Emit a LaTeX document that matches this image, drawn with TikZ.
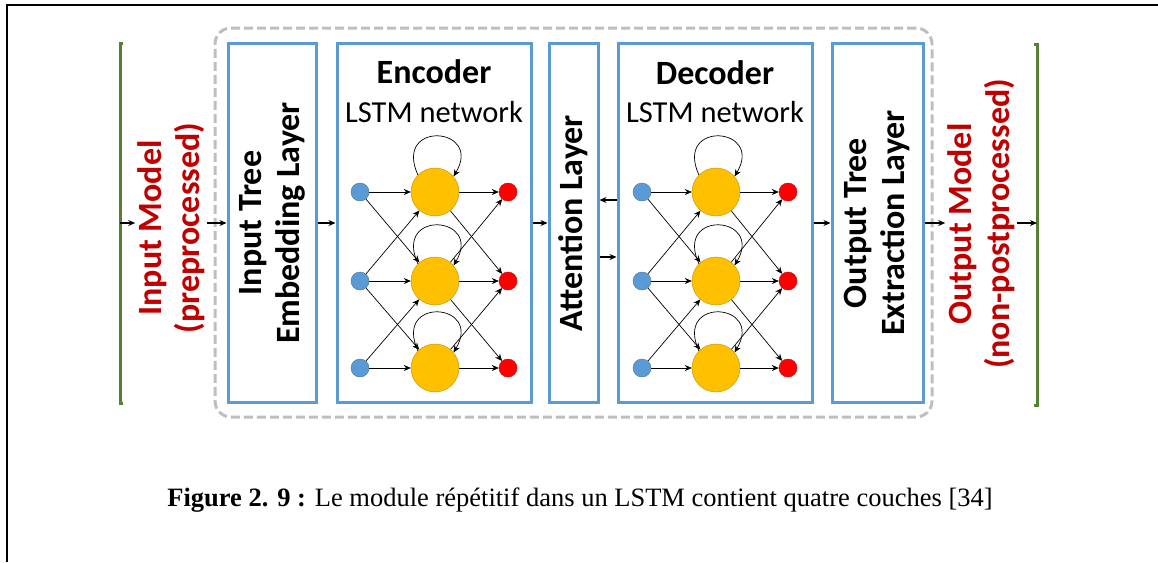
\documentclass[tikz,border=0pt]{standalone}
\usepackage{fontspec}
\setmainfont{Carlito}
\newfontfamily\capfont{Liberation Serif}
\usetikzlibrary{arrows.meta, positioning, calc}
\definecolor{layblue}{RGB}{91, 155, 213}
\definecolor{nodeborder}{RGB}{65, 113, 156}
\definecolor{cellyellow}{RGB}{255, 192, 0}
\definecolor{cellborder}{RGB}{191, 144, 0}
\definecolor{modelred}{RGB}{192, 0, 0}
\definecolor{bargreen}{RGB}{84, 130, 53}
\definecolor{dashgray}{RGB}{191, 191, 191}

\begin{document}
\begin{tikzpicture}[x=1pt, y=-1pt,
        laybox/.style={draw=layblue, line width=3pt, minimum width=#1, minimum height=359pt, inner sep=0pt},
        vtext/.style={rotate=90, align=center, inner sep=2pt, font=\bfseries\fontsize{34}{38}\selectfont},
        title/.style={font=\bfseries\fontsize{34}{38}\selectfont},
        sub/.style={font=\fontsize{30.5}{36}\selectfont},
        inp/.style={circle, draw=nodeborder, fill=layblue, minimum size=18pt, inner sep=0pt},
        cell/.style={circle, draw=cellborder, fill=cellyellow, minimum size=48pt, inner sep=0pt},
        outp/.style={circle, draw=modelred, fill=red, minimum size=18pt, inner sep=0pt},
        arr/.style={-{Stealth[length=7pt, width=6pt]}, line width=0.7pt},
        flow/.style={-{Stealth[length=7pt, width=6pt]}, line width=1.4pt},
        bar/.style={bargreen, line width=3pt}
      ]
        \useasboundingbox (0,0) rectangle (1158,562);
        \draw[line width=2pt] (1158,5) -- (7,5) -- (7,562);

        % dashed module frame
        \node[draw=dashgray, line width=3pt, dash pattern=on 9pt off 4pt, rounded corners=16pt,
              minimum width=717pt, minimum height=389pt] (module) at (573.5,222.5) {};

        % green bars
        \draw[bar] (123,43) -- (120,43) -- (120,403) -- (123,403);
        \draw[bar] (1034,44) -- (1037,44) -- (1037,405) -- (1034,405);
        \coordinate (inbar) at (120,223);
        \coordinate (outbar) at (1037,223);

        % layers
        \node[laybox=88pt]  (emb) at (272,223) {};
        \node[laybox=194pt] (enc) at (434,223) {};
        \node[laybox=49pt]  (att) at (573.5,223) {};
        \node[laybox=194pt] (dec) at (715,223) {};
        \node[laybox=91pt]  (ext) at (877.5,223) {};

        \node[vtext, text=modelred] (inmodel)  at (171,228) {Input Model\\(preprocessed)};
        \node[vtext] (embtext) at (emb) {Input Tree\\Embedding Layer};
        \node[vtext] (atttext) at (att) {Attention Layer};
        \node[vtext] (exttext) at (ext) {Output Tree\\Extraction Layer};
        \node[vtext, text=modelred] (outmodel) at (981,224) {Output Model\\(non-postprocessed)};

        \node[title] (enctitle) at (434,72) {Encoder};
        \node[sub]   (encsub)   at (434,112) {LSTM network};
        \node[title] (dectitle) at (715,73) {Decoder};
        \node[sub]   (decsub)   at (715,112) {LSTM network};

        % LSTM networks
        \foreach \n/\bx/\cx/\rx in {e/360/435/508, d/642/716/788} {
          \foreach \i/\y in {1/192, 2/281, 3/368} {
            \node[inp]  (\n b\i) at (\bx,\y) {};
            \node[cell] (\n c\i) at (\cx,\y) {};
            \node[outp] (\n r\i) at (\rx,\y) {};
            \draw[arr] (\n b\i) -- (\n c\i);
            \draw[arr] (\n c\i) -- (\n r\i);
            \draw[arr] (\n c\i.135) .. controls +(-25,-55) and +(30,-50) .. (\n c\i.40);
          }
          \foreach \i/\j in {1/2, 2/1, 2/3, 3/2} {
            \draw[arr] (\n b\i) -- (\n c\j);
            \draw[arr] (\n c\i) -- (\n r\j);
          }
        }

        % main flow
        \draw[flow] (inbar) -- (inbar -| inmodel.north);
        \draw[flow] (inmodel.south |- inbar) -- (emb);
        \draw[flow] (emb) -- (enc);
        \draw[flow] (enc) -- (att);
        \draw[flow] ([yshift=23pt]dec.west) -- ([yshift=23pt]att.east);
        \draw[flow] ([yshift=-34pt]att.east) -- ([yshift=-34pt]dec.west);
        \draw[flow] (dec) -- (ext);
        \draw[flow] (ext) -- (ext -| outmodel.north);
        \draw[flow] (outmodel.south |- outbar) -- (outbar);

        \node[font=\capfont\fontsize{26.5}{30}\selectfont] (caption) at (580,500)
          {\textbf{Figure 2. 9 :} Le module répétitif dans un LSTM contient quatre couches [34]};
      \end{tikzpicture}
\end{document}
